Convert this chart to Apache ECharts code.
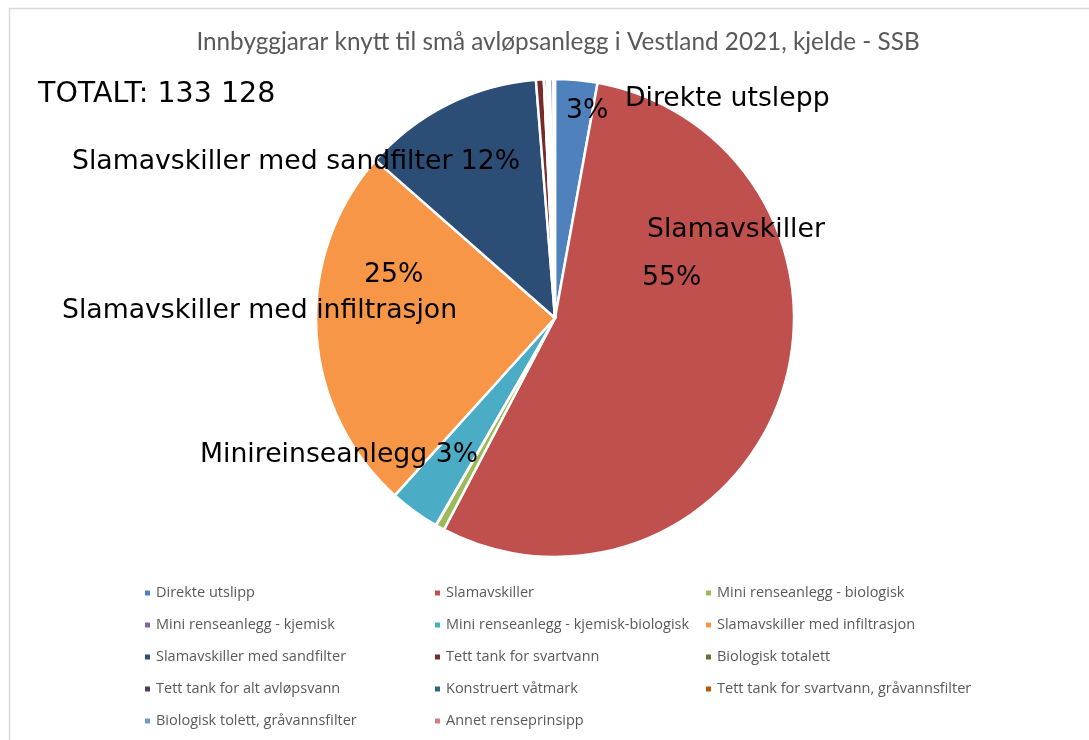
<!DOCTYPE html>
<html><head><meta charset="utf-8">
<script src="https://cdn.jsdelivr.net/npm/echarts@6/dist/echarts.min.js"></script>
<style>html,body{margin:0;padding:0;background:#fff}#c{width:1089px;height:740px}</style>
</head><body><div id="c"></div>
<script>
const categories = ["Direkte utslipp","Slamavskiller","Mini renseanlegg - biologisk","Mini renseanlegg - kjemisk","Mini renseanlegg - kjemisk-biologisk","Slamavskiller med infiltrasjon","Slamavskiller med sandfilter","Tett tank for svartvann","Biologisk totalett","Tett tank for alt avløpsvann","Konstruert våtmark","Tett tank for svartvann, gråvannsfilter","Biologisk tolett, gråvannsfilter","Annet renseprinsipp"];
const values = [3800,73000,800,30,4500,33000,16300,700,50,250,100,150,300,148];
const colors = ["#4F81BD","#C0504D","#9BBB59","#8064A2","#4BACC6","#F79646","#2C4D75","#772C2A","#5F7530","#4D3B62","#276A7C","#B65708","#729ACA","#D47F7D"];
const titleText = "Innbyggjarar knytt til små avløpsanlegg i Vestland 2021, kjelde - SSB";
const totalText = "TOTALT: 133 128";

const total = values.reduce((a,b)=>a+b,0);
const pct = i => Math.round(values[i]/total*100) + '%';

const chart = echarts.init(document.getElementById('c'));
const legendCols = [[0,3,6,9,12],[1,4,7,10,13],[2,5,8,11]];
const legendX = [138, 428, 699];
const legends = legendCols.map((idx,k)=>({
  orient:'vertical', left:legendX[k], top:580, itemWidth:7, itemHeight:7, itemGap:16,
  icon:'rect', selectedMode:false,
  textStyle:{fontFamily:'Open Sans', fontSize:14.5, color:'#595959', lineHeight:16, padding:[0,0,0,0]},
  data: idx.map(i=>categories[i])
}));
const lbl = (x,y,t,fs)=>({type:'text', left:x, top:y, z:100, style:{text:t, font:(fs||26.7)+'px "DejaVu Sans"', fill:'#000'}});
chart.setOption({
  animation:false,
  color:colors,
  title:{text:titleText, left:553, textAlign:'center', top:25, textStyle:{fontFamily:'Lato', fontWeight:'normal', fontSize:24.3, color:'#595959'}},
  legend:legends,
  series:[{
    type:'pie', center:[555,318], radius:239, startAngle:90, clockwise:true,
    label:{show:false}, labelLine:{show:false},
    itemStyle:{borderColor:'#fff', borderWidth:2.5},
    data: categories.map((c,i)=>({name:c, value:values[i]}))
  }],
  graphic:[
    {type:'rect', z:100, shape:{x:9.5,y:8.5,width:1100,height:760}, style:{fill:'none', stroke:'#d9d9d9', lineWidth:1.5}, silent:true},
    lbl(38,80,totalText,28.5),
    lbl(566,98,pct(0)),
    lbl(625,86,categories[0].replace('utslipp','utslepp')),
    lbl(647,217,categories[1]),
    lbl(642,265,pct(1)),
    lbl(72,149,categories[6]+' '+pct(6)),
    lbl(364,262,pct(5)),
    lbl(62,298,categories[5]),
    lbl(200,442,'Minireinseanlegg '+pct(4))
  ]
});
</script></body></html>
